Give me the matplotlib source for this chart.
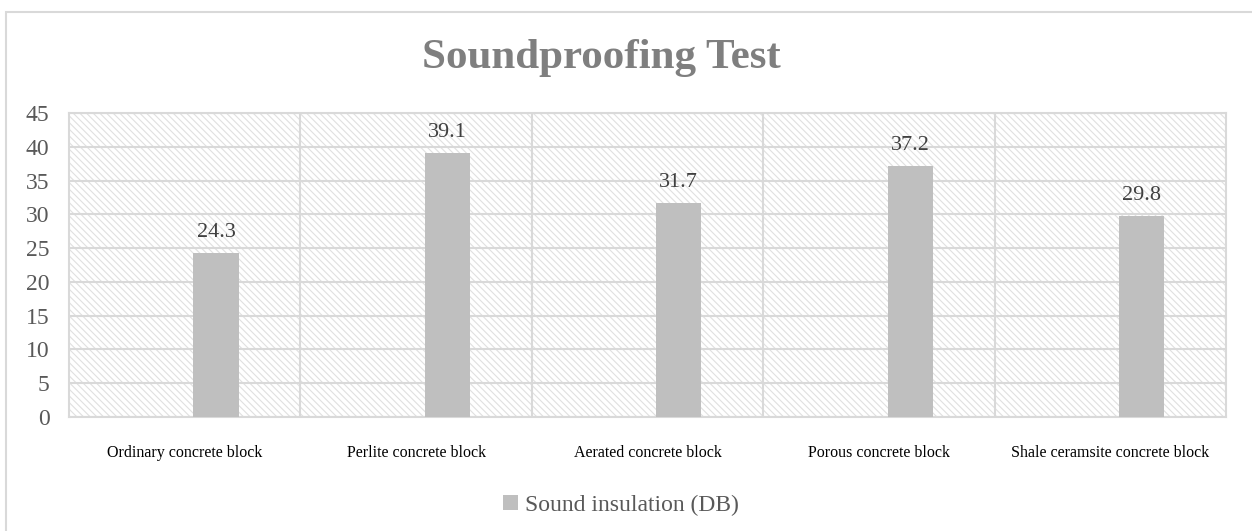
import numpy as np
import matplotlib
matplotlib.use('Agg')
import matplotlib.pyplot as plt
from matplotlib.patches import Rectangle

# data
categories = ['Ordinary concrete block', 'Perlite concrete block', 'Aerated concrete block',
              'Porous concrete block', 'Shale ceramsite concrete block']
values = [24.3, 39.1, 31.7, 37.2, 29.8]
series_name = 'Sound insulation (DB)'
yticks = [0, 5, 10, 15, 20, 25, 30, 35, 40, 45]

plt.rcParams['font.family'] = ['Liberation Serif', 'DejaVu Serif']
plt.rcParams['hatch.linewidth'] = 0.8

grid_col = '#d9d9d9'
bar_col = '#bfbfbf'

fig = plt.figure(figsize=(12.52, 5.31), dpi=100)
# outer chart frame (only top and left edges visible in the crop)
fig.patches.append(Rectangle((6/1252, -0.1), 1.2, 1.1 - 12/531, transform=fig.transFigure,
                             facecolor='none', edgecolor=grid_col, linewidth=1.5))

ax = fig.add_axes([69/1252, (531-417)/531, 1157/1252, 304/531])

x = np.arange(len(categories))
# hatched plot background
ax.add_patch(Rectangle((0, 0), 1, 1, transform=ax.transAxes, facecolor='white',
                       edgecolor='#e0e0e0', hatch='\\\\\\\\\\', linewidth=0, zorder=0))

bars = ax.bar(x + 0.135, values, width=0.195, color=bar_col, zorder=3, label=series_name)
for xi, v in zip(x, values):
    ax.annotate('%.1f' % v, (xi + 0.135, v), xytext=(0, 11.5), textcoords='offset points',
                ha='center', va='baseline', fontsize=16, color='#404040', zorder=4)

ax.set_xlim(-0.5, len(categories) - 0.5)
ax.set_ylim(0, 45)
ax.set_yticks(yticks)
ax.set_xticks(x)
ax.set_xticklabels(categories, fontsize=11.5, color='black')
ax.set_xticks(x[:-1] + 0.5, minor=True)
ax.tick_params(axis='y', length=0, pad=14, labelsize=17, labelcolor='#595959')
ax.tick_params(axis='x', which='both', length=0, pad=20)
ax.grid(axis='y', color=grid_col, linewidth=1.5, zorder=1)
ax.grid(axis='x', which='minor', color=grid_col, linewidth=1.5, zorder=1)
ax.set_axisbelow(True)
for s in ax.spines.values():
    s.set_color(grid_col)
    s.set_linewidth(1.5)

fig.text(601/1252, 1 - 58/531, 'Soundproofing Test', ha='center', va='center',
         fontsize=31, fontweight='bold', color='#7f7f7f')

fig.legend(handles=[bars], labels=[series_name], loc='center', bbox_to_anchor=(621/1252, 1 - 505/531),
           frameon=False, fontsize=17, labelcolor='#595959', handlelength=0.6, handleheight=0.6,
           handletextpad=0.3)

fig.savefig('out.png', dpi=100)
